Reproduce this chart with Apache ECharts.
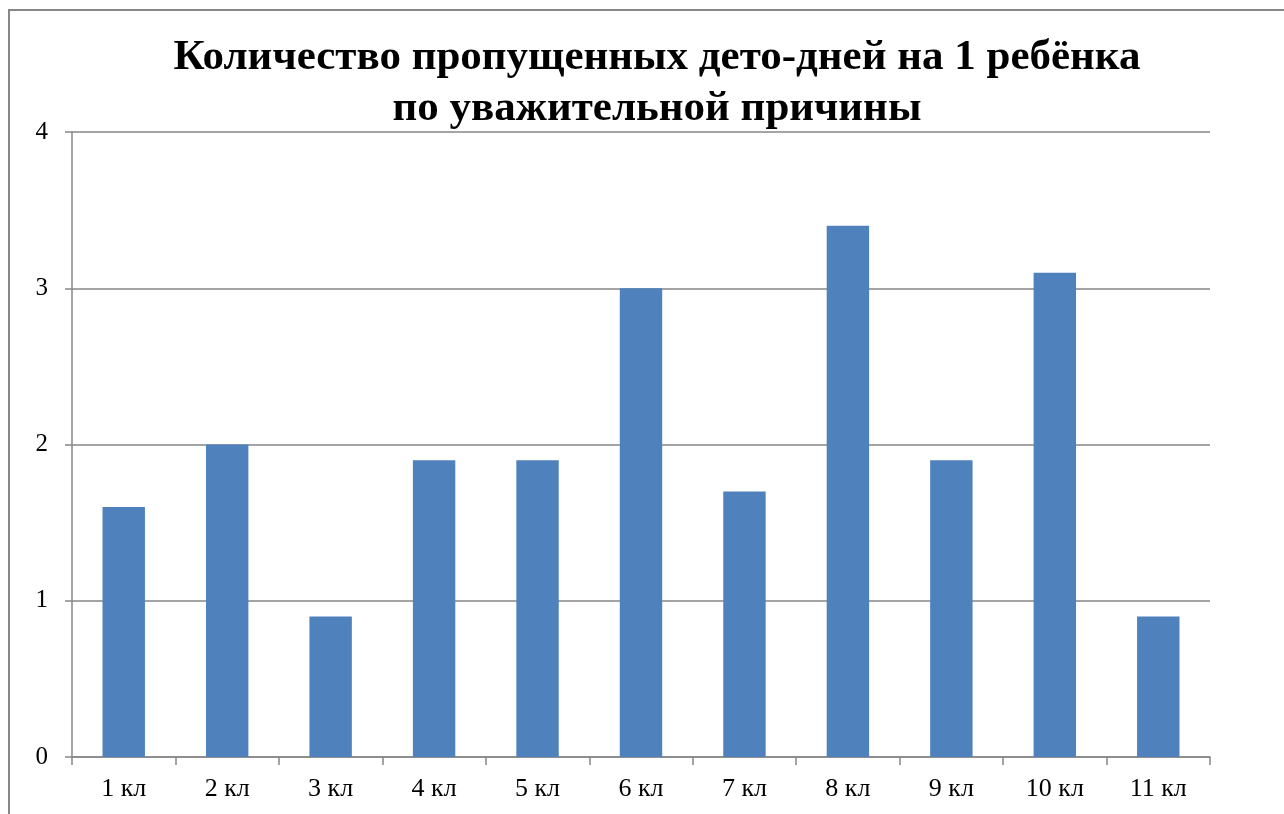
<!DOCTYPE html>
<html>
<head>
<meta charset="utf-8">
<script src="https://cdn.jsdelivr.net/npm/echarts@6/dist/echarts.min.js"></script>
<style>
html,body{margin:0;padding:0;background:#fff;}
#chart{width:1284px;height:814px;}
</style>
</head>
<body>
<div id="chart"></div>
<script>
const categories = ['1 кл','2 кл','3 кл','4 кл','5 кл','6 кл','7 кл','8 кл','9 кл','10 кл','11 кл'];
const values = [1.6, 2.0, 0.9, 1.9, 1.9, 3.0, 1.7, 3.4, 1.9, 3.1, 0.9];
const titleText = 'Количество пропущенных дето-дней на 1 ребёнка\nпо уважительной причины';

const chart = echarts.init(document.getElementById('chart'), null, {renderer: 'canvas'});
chart.setOption({
  animation: false,
  backgroundColor: '#fff',
  graphic: [{
    type: 'rect',
    shape: {x: 9, y: 10, width: 1400, height: 1000},
    style: {fill: 'none', stroke: '#878787', lineWidth: 2},
    silent: true
  }],
  title: {
    text: titleText,
    left: 652,
    top: 27,
    textAlign: 'center',
    textStyle: {
      fontFamily: 'Liberation Serif',
      fontWeight: 'bold',
      fontSize: 43,
      lineHeight: 51,
      color: '#000'
    }
  },
  grid: {left: 72, right: 74, top: 132, bottom: 57, containLabel: false},
  xAxis: {
    type: 'category',
    data: categories,
    axisLine: {lineStyle: {color: '#868686', width: 1.5}},
    axisTick: {show: true, length: 8, alignWithLabel: false, lineStyle: {color: '#868686', width: 1.5}},
    axisLabel: {fontFamily: 'Liberation Serif', fontSize: 26, color: '#000', margin: 19}
  },
  yAxis: {
    type: 'value',
    min: 0, max: 4, interval: 1,
    axisLine: {show: true, lineStyle: {color: '#868686', width: 1.5}},
    axisTick: {show: true, length: 7, lineStyle: {color: '#868686', width: 1.5}},
    splitLine: {lineStyle: {color: '#868686', width: 1.5}},
    axisLabel: {fontFamily: 'Liberation Serif', fontSize: 25, color: '#000', margin: 24}
  },
  series: [{
    type: 'bar',
    data: values,
    barWidth: '41%',
    itemStyle: {color: '#4F81BD'}
  }]
});
</script>
</body>
</html>
